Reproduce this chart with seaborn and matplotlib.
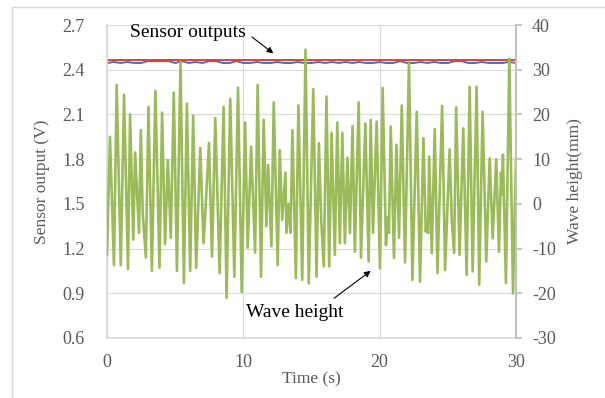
import matplotlib
matplotlib.use("Agg")
import matplotlib.pyplot as plt
import seaborn as sns
import pandas as pd
import numpy as np
from matplotlib.lines import Line2D

# ---- data ----
wave_t = [0.0, 0.22, 0.51, 0.71, 1.01, 1.25, 1.54, 1.69, 1.93, 2.06, 2.35, 2.48, 2.62, 2.85,
          3.04, 3.29, 3.55, 3.85, 4.04, 4.26, 4.46, 4.68, 4.90, 5.13, 5.39, 5.64, 5.86, 6.10,
          6.32, 6.54, 6.84, 7.08, 7.21, 7.48, 7.70, 7.94, 8.26, 8.55, 8.77, 9.04, 9.34, 9.61,
          9.88, 10.13, 10.32, 10.57, 10.86, 11.05, 11.30, 11.49, 11.69, 11.82, 12.06, 12.23,
          12.52, 12.67, 12.85, 13.09, 13.16, 13.33, 13.46, 13.60, 13.85, 14.04, 14.32, 14.56,
          14.80, 15.13, 15.37, 15.54, 15.71, 15.90, 16.10, 16.30, 16.47, 16.71, 16.89, 17.08,
          17.26, 17.45, 17.63, 17.82, 18.01, 18.18, 18.46, 18.63, 18.95, 19.19, 19.34, 19.51,
          19.78, 20.02, 20.22, 20.46, 20.61, 20.68, 20.81, 21.05, 21.23, 21.42, 21.62, 21.86,
          22.15, 22.40, 22.72, 22.96, 23.21, 23.38, 23.46, 23.55, 23.63, 23.82, 24.04, 24.24,
          24.58, 24.80, 25.13, 25.29, 25.46, 25.61, 25.86, 26.13, 26.38, 26.60, 26.82, 27.11,
          27.30, 27.55, 27.82, 28.07, 28.29, 28.55, 28.75, 28.90, 28.97, 29.04, 29.26, 29.51,
          29.78, 30.0]
wave_mm = [-11.5, 15, -13.7, 26.6, -13.7, 24.4, -14.6, 20, -8, 11.5, -6.5, 16.5, -2, -12,
           21.7, -15, 25.3, -14.3, 20.4, -9, 9.8, -7.6, 24.9, -15, 31.8, -17.7, 22.4, -15,
           19.7, -14.3, 12.5, -8.8, -2, 13.6, -11.8, 19.2, -15.5, 21.7, -21, 23.5, -16.3, 26,
           -19.7, 18.2, -9.8, 12.8, -10.9, 26.6, -16.3, 18.8, -5, 8.7, -9.5, 22.7,
           -13.7, 12, -3.6, 7, -6.5, 0, -6.5, 16.5, -16.6, 22, -17, 34.5,
           -17.8, 25.7, -16.3, 13.6, -3.6, -14, 24, -14, 15.9, -11.4, 18.2, -8.8,
           15.9, -8.8, 10.3, -6.5, 17.4, -10.7, 22.7, -12, 18, -12.9, 18.8, -6.5,
           18.4, -14.4, 25.9, -9.2, -3, -6.5, 17.3, -12.1, 13.2, -7.6, 22, -13.1,
           31.8, -17, 20.6, -17.4, 14.7, -6.2, -4, -6.5, 10.6, -11, 16.7, -15.5,
           21.9, -14.8, 12.2, -3.6, -11, 21.6, -11.4, 16.9, -15.9, 26.2, -15.1, 26.2,
           -18.1, 20.6, -12.9, 10.2, -7.7, 10, -10.7, 7, 2, 11, -17.7, 32.5,
           -20, 10.5]

sensor_t = [i * 0.5 for i in range(61)]
sensor_red = [2.462] * 61
sensor_blue = [2.445, 2.452, 2.445, 2.452, 2.445, 2.445, 2.458, 2.458, 2.458, 2.458,
               2.445, 2.458, 2.445, 2.452, 2.445, 2.458, 2.458, 2.445, 2.445, 2.458,
               2.445, 2.445, 2.452, 2.445, 2.445, 2.452, 2.445, 2.445, 2.452, 2.445,
               2.445, 2.452, 2.445, 2.452, 2.445, 2.452, 2.445, 2.452, 2.445, 2.445,
               2.452, 2.445, 2.445, 2.458, 2.445, 2.445, 2.452, 2.445, 2.452, 2.445,
               2.445, 2.458, 2.458, 2.445, 2.445, 2.452, 2.445, 2.445, 2.445, 2.452,
               2.445]

left_ticks = [0.6, 0.9, 1.2, 1.5, 1.8, 2.1, 2.4, 2.7]
right_ticks = [-30, -20, -10, 0, 10, 20, 30, 40]
x_ticks = [0, 10, 20, 30]

# ---- style ----
sns.set_theme(style="white")
plt.rcParams['font.family'] = ['Liberation Serif', 'DejaVu Serif']
plt.rcParams['axes.unicode_minus'] = False
TXT = "#595959"
GRID = "#D9D9D9"

fig = plt.figure(figsize=(6.05, 3.98), dpi=100)
ax = fig.add_axes([107/605, 1-338/398, (516-107)/605, (338-25)/398])

df_s = pd.DataFrame({"t": sensor_t, "red": sensor_red, "blue": sensor_blue})
sns.lineplot(data=df_s, x="t", y="blue", ax=ax, color="#4472C4", linewidth=1.4)
sns.lineplot(data=df_s, x="t", y="red", ax=ax, color="#E0403A", linewidth=1.4)

ax.set_xlim(0, 30)
ax.set_ylim(0.6, 2.7)
ax.set_yticks(left_ticks)
ax.set_yticklabels([f"{v:.1f}" for v in left_ticks])
ax.set_xticks(x_ticks)
ax.grid(True, color=GRID, linewidth=0.8)
ax.set_axisbelow(True)
ax.spines["top"].set_visible(False)
ax.spines["left"].set_color(GRID)
ax.spines["right"].set_color("#BFBFBF")
ax.spines["bottom"].set_color(GRID)
ax.tick_params(axis="y", length=0, labelsize=13, labelcolor=TXT, pad=16)
ax.tick_params(axis="x", length=0, labelsize=13, labelcolor=TXT, pad=11.5)
ax.set_xlabel("Time (s)", fontsize=12.5, color=TXT, labelpad=0)
ax.set_ylabel("Sensor output (V)", fontsize=12.5, color=TXT, labelpad=9)

ax2 = ax.twinx()
df_w = pd.DataFrame({"t": wave_t, "h": wave_mm})
sns.lineplot(data=df_w, x="t", y="h", ax=ax2, color="#9BBB59", linewidth=1.9)
ax2.set_ylim(-30, 40)
ax2.set_yticks(right_ticks)
ax2.set_xlim(0, 30)
for s in ["top", "left", "bottom"]:
    ax2.spines[s].set_visible(False)
ax2.spines["right"].set_color("#BFBFBF")
ax2.tick_params(axis="y", length=4, color="#BFBFBF", labelsize=13, labelcolor=TXT, pad=7.5)
ax2.set_ylabel("Wave height(mm)", fontsize=12.5, color=TXT, labelpad=8)
ax2.set_xlabel("")

# annotations
ax.annotate("Sensor outputs", xy=(12.2, 2.51), xycoords="data",
            xytext=(10.15, 2.653), textcoords="data",
            fontsize=14, color="black", ha="right", va="center",
            arrowprops=dict(arrowstyle="-|>", color="black", lw=0.8,
                            mutation_scale=9, shrinkA=3, shrinkB=0,
                            relpos=(1.0, 0.5)))
ax2.annotate("Wave height", xy=(19.34, -15.0), xycoords="data",
             xytext=(13.8, -24.3), textcoords="data",
             fontsize=14, color="black", ha="center", va="center",
             arrowprops=dict(arrowstyle="-|>", color="black", lw=0.8,
                             mutation_scale=9, shrinkA=3, shrinkB=0,
                             relpos=(0.82, 1.0)))

# outer frame
fig.add_artist(Line2D([12/605, 1.0], [1-7/398, 1-7/398], color=GRID, lw=1, transform=fig.transFigure))
fig.add_artist(Line2D([12/605, 12/605], [0.0, 1-7/398], color=GRID, lw=1, transform=fig.transFigure))

fig.savefig("out.png", dpi=100)
